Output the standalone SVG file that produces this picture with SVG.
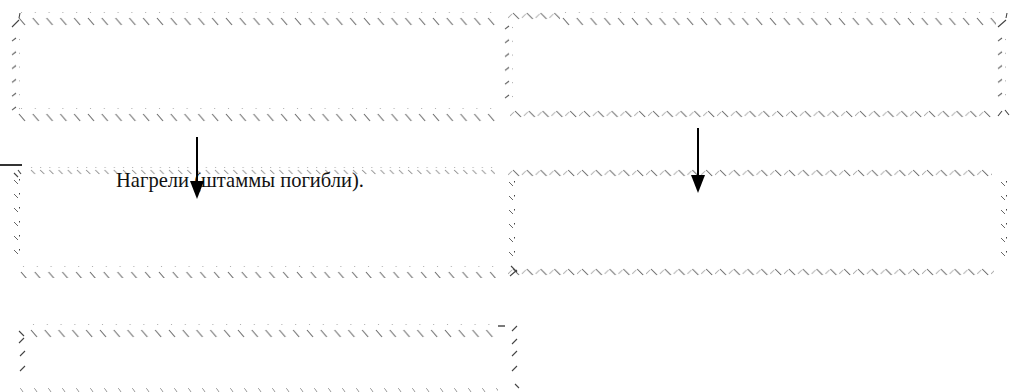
<svg xmlns="http://www.w3.org/2000/svg" width="1025" height="392" viewBox="0 0 1025 392">
<style>
.t{font-family:"Liberation Serif","Times New Roman",serif;font-size:22px;fill:#111}
.c{stroke:#444;stroke-width:1.1;fill:none}
.ar{stroke:#000;stroke-width:2;fill:none}
</style>
<defs>
<pattern id="bs" patternUnits="userSpaceOnUse" width="13.8" height="16">
<rect x="3" y="0" width="1" height="1" fill="#aaa"/>
<line x1="1" y1="6" x2="7" y2="13" stroke="#666" stroke-width="1.1"/>
</pattern>
<pattern id="bs2" patternUnits="userSpaceOnUse" width="9.2" height="9">
<rect x="1" y="0" width="1" height="1" fill="#aaa"/>
<line x1="1" y1="3" x2="5" y2="7" stroke="#888" stroke-width="1"/>
</pattern>
<pattern id="zz" patternUnits="userSpaceOnUse" width="13.8" height="8">
<line x1="0" y1="6" x2="4" y2="2" stroke="#aaa" stroke-width="1"/>
<line x1="5" y1="1" x2="11" y2="7" stroke="#555" stroke-width="1"/>
</pattern>
<pattern id="vl" patternUnits="userSpaceOnUse" width="10" height="13.8">
<line x1="1" y1="5" x2="5" y2="2" stroke="#555" stroke-width="1.1"/>
<rect x="8" y="3" width="1" height="1" fill="#aaa"/>
</pattern>
<pattern id="vr" patternUnits="userSpaceOnUse" width="10" height="14">
<line x1="1" y1="2" x2="5" y2="6" stroke="#666" stroke-width="1"/>
<rect x="6" y="1" width="1" height="1.5" fill="#444"/>
</pattern>
<pattern id="dots" patternUnits="userSpaceOnUse" width="14" height="4">
<rect x="2" y="0" width="1" height="1" fill="#aaa"/>
<line x1="3" y1="1" x2="5" y2="4" stroke="#999" stroke-width="1"/>
</pattern>
<marker id="ah" markerUnits="userSpaceOnUse" markerWidth="18" markerHeight="14" refX="0" refY="7" orient="auto" viewBox="0 0 18 14">
<path d="M0,0 L18,7 L0,14 Z" fill="#000"/>
</marker>
</defs>

<g id="box1">
<rect transform="translate(18,12)" width="480" height="16" fill="url(#bs)"/>
<rect transform="translate(11,36)" width="10" height="80" fill="url(#vl)"/>
<rect transform="translate(18,108)" width="480" height="16" fill="url(#bs)"/>
<path class="c" d="M12,27 L19,20 M19,18 L20,13"/>
</g>

<g id="box2">
<rect transform="translate(508,12)" width="52" height="8" fill="url(#zz)"/>
<rect transform="translate(562,12)" width="434" height="16" fill="url(#bs)"/>
<rect transform="translate(504,24)" width="10" height="80" fill="url(#vl)"/>
<rect transform="translate(510,110)" width="482" height="8" fill="url(#zz)"/>
<rect transform="translate(997,36)" width="10" height="70" fill="url(#vl)"/>
<path class="c" d="M998,27 L1006,20 M1006,18 L1007,13 M998,116 L1002,111 M1005,110 L1009,115"/>
</g>

<g id="box3">
<rect transform="translate(30,167)" width="465" height="9" fill="url(#bs2)"/>
<rect transform="translate(13,178)" width="10" height="84" fill="url(#vr)"/>
<rect transform="translate(20,266)" width="476" height="12" fill="url(#bs)"/>
<path class="c" d="M14,173 L18,177 M18,170 L21,174"/>
</g>

<g id="box4">
<rect transform="translate(508,169)" width="484" height="8" fill="url(#zz)"/>
<rect transform="translate(508,180)" width="10" height="84" fill="url(#vr)"/>
<rect transform="translate(508,268)" width="486" height="8" fill="url(#zz)"/>
<rect transform="translate(1000,180)" width="10" height="84" fill="url(#vr)"/>
<path class="c" d="M510,276 L517,270 M511,266 L517,272"/>
</g>

<g id="box5">
<rect transform="translate(30,324)" width="465" height="16" fill="url(#bs)"/>
<path class="c" d="M19,331 L24,336 M24,338 L19,343 M20,356 L25,351 M20,371 L25,366 M512,331 L517,326 M512,344 L517,339 M512,356 L517,351 M512,371 L517,366 M515,384 L519,388"/>
<line x1="498" y1="326" x2="505" y2="326" stroke="#222" stroke-width="1.2"/>
<rect transform="translate(18,388)" width="480" height="4" fill="url(#dots)"/>
</g>

<line x1="0" y1="165" x2="22" y2="165" stroke="#000" stroke-width="1.6"/>

<text class="t" x="116" y="187" textLength="248" lengthAdjust="spacingAndGlyphs">Нагрели (штаммы погибли).</text>

<g id="connectors">
<line class="ar" x1="197" y1="137" x2="197" y2="181" marker-end="url(#ah)"/>
<line class="ar" x1="698" y1="128" x2="698" y2="175" marker-end="url(#ah)"/>
</g>
</svg>
